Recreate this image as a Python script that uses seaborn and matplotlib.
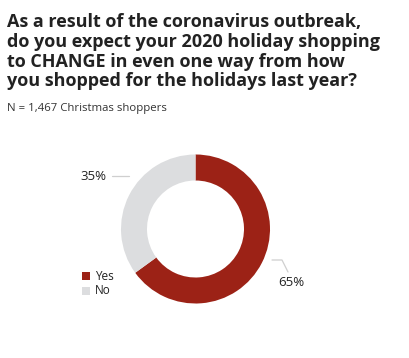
import matplotlib
matplotlib.use("Agg")
import matplotlib.pyplot as plt
import seaborn as sns
from matplotlib.patches import Rectangle

sns.set_theme(style="white")
plt.rcParams['font.family'] = ['Open Sans', 'DejaVu Sans']

categories = ["Yes", "No"]
values = [65, 35]
colors = ["#9c2216", "#dcdddf"]
title = ("As a result of the coronavirus outbreak,\n"
         "do you expect your 2020 holiday shopping\n"
         "to CHANGE in even one way from how\n"
         "you shopped for the holidays last year?")
subtitle = "N = 1,467 Christmas shoppers"

W, H = 410, 358
fig = plt.figure(figsize=(W / 100, H / 100), dpi=100)
fig.patch.set_facecolor("white")

cx, cy, R = 195.5, 229, 74.5
ax = fig.add_axes([0, 0, 1, 1])

def P(px, py):
    return ((px - cx) / R, (cy - py) / R)

wedges, _ = ax.pie(values, colors=colors, startangle=90, counterclock=False,
                   radius=1.0, wedgeprops=dict(width=26 / R, linewidth=0))
ax.set_aspect("auto")
ax.set_xlim(-cx / R, (W - cx) / R)
ax.set_ylim((cy - H) / R, cy / R)
ax.axis("off")

txt = "#222222"
line_c = "#cfcfcf"
# leader lines and labels
ax.plot(*zip(P(112, 176), P(129, 176)), color=line_c, lw=0.9)
ax.text(*P(106, 177), f"{values[1]}%", ha="right", va="center", fontsize=9.5, color=txt)
ax.plot(*zip(P(272, 260), P(282, 260), P(288, 272)), color=line_c, lw=0.9)
ax.text(*P(278, 283), f"{values[0]}%", ha="left", va="center", fontsize=9.5, color=txt)

# legend
for i, (c, lab) in enumerate(zip(colors, categories)):
    yy = 276 + i * 15
    fig.patches.append(Rectangle(((82) / W, 1 - (yy + 4) / H), 8 / W, 8 / H,
                                 transform=fig.transFigure, facecolor=c, edgecolor="none"))
    fig.text(95 / W, 1 - yy / H, lab, ha="left", va="center", fontsize=8.5, color=txt)

fig.text(7 / W, 1 - 13 / H, title, ha="left", va="top", fontsize=13, fontweight="bold",
         color="#222222", linespacing=1.13)
fig.text(7 / W, 1 - 108 / H, subtitle, ha="left", va="center", fontsize=8.2, color="#333333")

fig.savefig("out.png", dpi=100, facecolor="white")
